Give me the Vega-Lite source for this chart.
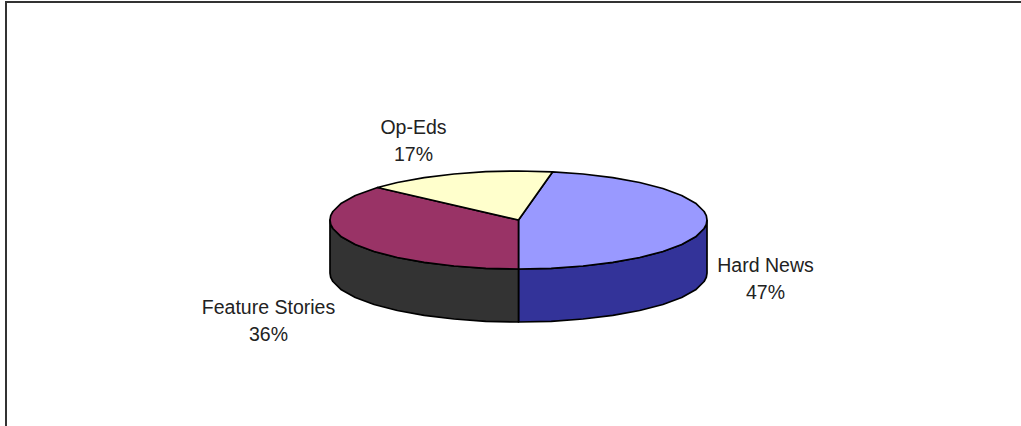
{"$schema":"https://vega.github.io/schema/vega-lite/v6.json","width":1021,"height":426,"padding":0,"autosize":{"type":"fit","contains":"padding"},"background":"white","view":{"stroke":null},
"datasets":{"frame":[{"s":1,"x":-512.5,"y":-206},{"s":2,"x":-512.5,"y":218},{"s":3,"x":502.5,"y":218}],
"faces":[
{"f":"Hard News side","s":1,"x":188.5,"y":0},{"f":"Hard News side","s":2,"x":187.8,"y":-4.3},{"f":"Hard News side","s":3,"x":185.6,"y":-8.5},{"f":"Hard News side","s":4,"x":177.1,"y":-16.8},{"f":"Hard News side","s":5,"x":163.2,"y":-24.5},{"f":"Hard News side","s":6,"x":144.4,"y":-31.5},{"f":"Hard News side","s":7,"x":121.2,"y":-37.5},{"f":"Hard News side","s":8,"x":94.3,"y":-42.4},{"f":"Hard News side","s":9,"x":64.5,"y":-46},{"f":"Hard News side","s":10,"x":32.7,"y":-48.3},{"f":"Hard News side","s":11,"x":0,"y":-49},{"f":"Hard News side","s":12,"x":0,"y":-102},{"f":"Hard News side","s":13,"x":32.7,"y":-101.3},{"f":"Hard News side","s":14,"x":64.5,"y":-99},{"f":"Hard News side","s":15,"x":94.3,"y":-95.4},{"f":"Hard News side","s":16,"x":121.2,"y":-90.5},{"f":"Hard News side","s":17,"x":144.4,"y":-84.5},{"f":"Hard News side","s":18,"x":163.2,"y":-77.5},{"f":"Hard News side","s":19,"x":177.1,"y":-69.8},{"f":"Hard News side","s":20,"x":185.6,"y":-61.5},{"f":"Hard News side","s":21,"x":187.8,"y":-57.3},{"f":"Hard News side","s":22,"x":188.5,"y":-53},{"f":"Hard News side","s":23,"x":188.5,"y":0},
{"f":"Feature Stories side","s":1,"x":0,"y":-49},{"f":"Feature Stories side","s":2,"x":-32.7,"y":-48.3},{"f":"Feature Stories side","s":3,"x":-64.5,"y":-46},{"f":"Feature Stories side","s":4,"x":-94.3,"y":-42.4},{"f":"Feature Stories side","s":5,"x":-121.2,"y":-37.5},{"f":"Feature Stories side","s":6,"x":-144.4,"y":-31.5},{"f":"Feature Stories side","s":7,"x":-163.2,"y":-24.5},{"f":"Feature Stories side","s":8,"x":-177.1,"y":-16.8},{"f":"Feature Stories side","s":9,"x":-185.6,"y":-8.5},{"f":"Feature Stories side","s":10,"x":-187.8,"y":-4.3},{"f":"Feature Stories side","s":11,"x":-188.5,"y":0},{"f":"Feature Stories side","s":12,"x":-188.5,"y":-53},{"f":"Feature Stories side","s":13,"x":-187.8,"y":-57.3},{"f":"Feature Stories side","s":14,"x":-185.6,"y":-61.5},{"f":"Feature Stories side","s":15,"x":-177.1,"y":-69.8},{"f":"Feature Stories side","s":16,"x":-163.2,"y":-77.5},{"f":"Feature Stories side","s":17,"x":-144.4,"y":-84.5},{"f":"Feature Stories side","s":18,"x":-121.2,"y":-90.5},{"f":"Feature Stories side","s":19,"x":-94.3,"y":-95.4},{"f":"Feature Stories side","s":20,"x":-64.5,"y":-99},{"f":"Feature Stories side","s":21,"x":-32.7,"y":-101.3},{"f":"Feature Stories side","s":22,"x":0,"y":-102},{"f":"Feature Stories side","s":23,"x":0,"y":-49},
{"f":"Hard News","s":1,"x":0,"y":0},{"f":"Hard News","s":2,"x":34,"y":48.1},{"f":"Hard News","s":3,"x":64.5,"y":46},{"f":"Hard News","s":4,"x":94.3,"y":42.4},{"f":"Hard News","s":5,"x":121.2,"y":37.5},{"f":"Hard News","s":6,"x":144.4,"y":31.5},{"f":"Hard News","s":7,"x":163.2,"y":24.5},{"f":"Hard News","s":8,"x":177.1,"y":16.8},{"f":"Hard News","s":9,"x":185.6,"y":8.5},{"f":"Hard News","s":10,"x":187.8,"y":4.3},{"f":"Hard News","s":11,"x":188.5,"y":0},{"f":"Hard News","s":12,"x":187.8,"y":-4.3},{"f":"Hard News","s":13,"x":185.6,"y":-8.5},{"f":"Hard News","s":14,"x":177.1,"y":-16.8},{"f":"Hard News","s":15,"x":163.2,"y":-24.5},{"f":"Hard News","s":16,"x":144.4,"y":-31.5},{"f":"Hard News","s":17,"x":121.2,"y":-37.5},{"f":"Hard News","s":18,"x":94.3,"y":-42.4},{"f":"Hard News","s":19,"x":64.5,"y":-46},{"f":"Hard News","s":20,"x":32.7,"y":-48.3},{"f":"Hard News","s":21,"x":0,"y":-49},{"f":"Hard News","s":22,"x":0,"y":0},
{"f":"Feature Stories","s":1,"x":0,"y":0},{"f":"Feature Stories","s":2,"x":0,"y":-49},{"f":"Feature Stories","s":3,"x":-32.7,"y":-48.3},{"f":"Feature Stories","s":4,"x":-64.5,"y":-46},{"f":"Feature Stories","s":5,"x":-94.3,"y":-42.4},{"f":"Feature Stories","s":6,"x":-121.2,"y":-37.5},{"f":"Feature Stories","s":7,"x":-144.4,"y":-31.5},{"f":"Feature Stories","s":8,"x":-163.2,"y":-24.5},{"f":"Feature Stories","s":9,"x":-177.1,"y":-16.8},{"f":"Feature Stories","s":10,"x":-185.6,"y":-8.5},{"f":"Feature Stories","s":11,"x":-187.8,"y":-4.3},{"f":"Feature Stories","s":12,"x":-188.5,"y":0},{"f":"Feature Stories","s":13,"x":-187.8,"y":4.3},{"f":"Feature Stories","s":14,"x":-185.6,"y":8.5},{"f":"Feature Stories","s":15,"x":-177.1,"y":16.8},{"f":"Feature Stories","s":16,"x":-163.2,"y":24.5},{"f":"Feature Stories","s":17,"x":-141,"y":32.5},{"f":"Feature Stories","s":18,"x":0,"y":0},
{"f":"Op-Eds","s":1,"x":0,"y":0},{"f":"Op-Eds","s":2,"x":-141,"y":32.5},{"f":"Op-Eds","s":3,"x":-121.2,"y":37.5},{"f":"Op-Eds","s":4,"x":-94.3,"y":42.4},{"f":"Op-Eds","s":5,"x":-64.5,"y":46},{"f":"Op-Eds","s":6,"x":-32.7,"y":48.3},{"f":"Op-Eds","s":7,"x":0,"y":49},{"f":"Op-Eds","s":8,"x":34,"y":48.1},{"f":"Op-Eds","s":9,"x":0,"y":0}
],
"labels":[{"t":"Hard News\n47%","x":247,"y":-46},{"t":"Feature Stories\n36%","x":-250,"y":-88},{"t":"Op-Eds\n17%","x":-105,"y":92}]},
"encoding":{"x":{"field":"x","type":"quantitative","scale":{"domain":[-518.5,502.5],"nice":false,"zero":false},"axis":null},"y":{"field":"y","type":"quantitative","scale":{"domain":[-206,220],"nice":false,"zero":false},"axis":null}},
"layer":[
{"data":{"name":"frame"},"mark":{"type":"line","stroke":"#333333","strokeWidth":2,"clip":true},"encoding":{"order":{"field":"s"}}},
{"data":{"name":"faces"},"mark":{"type":"line","stroke":"#000000","strokeWidth":1.7,"strokeJoin":"round"},"encoding":{"detail":{"field":"f"},"order":{"field":"s"},"fill":{"field":"f","type":"nominal","legend":null,"scale":{"domain":["Hard News","Feature Stories","Op-Eds","Hard News side","Feature Stories side"],"range":["#9999FF","#993366","#FFFFCC","#333399","#333333"]}}}},
{"data":{"name":"labels"},"mark":{"type":"text","font":"Liberation Sans","fontSize":19.5,"lineBreak":"\n","lineHeight":27,"baseline":"middle","align":"center","fill":"#222222"},"encoding":{"text":{"field":"t"}}}
]}
